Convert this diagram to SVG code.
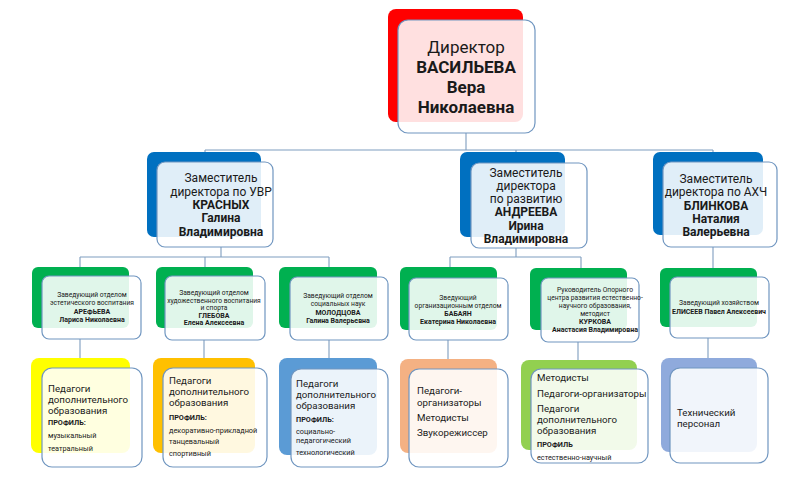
<svg xmlns="http://www.w3.org/2000/svg" width="800" height="479" viewBox="0 0 800 479">
<style>
.f{fill:#fff;fill-opacity:.88;stroke:#7096c0;stroke-width:1.2}
.c{fill:none;stroke:#7f9dbf;stroke-width:1.1}
text{font-family:Roboto,"Liberation Sans",sans-serif;fill:#1a1a1a}
.m{text-anchor:middle}
.b{font-weight:bold}
.d{font-size:17px}
.z{font-size:12px}
.h{font-size:6.7px}
.hb{font-size:7px;font-weight:bold}
.p{font-size:9.7px}
.s{font-size:7.3px}
.sb{font-size:7.3px;font-weight:bold}
</style>
<rect width="800" height="479" fill="#fff"/>
<g id="connectors">
<path class="c" d="M466 133V150M205 150H713M205 150V162M516 150V163M713 150V162"/>
<path class="c" d="M221 247V257M80 257H329M80 257V276M205 257V276M329 257V277"/>
<path class="c" d="M516 248V257M450 257H581M450 257V278M581 257V278"/>
<path class="c" d="M713 247V277"/>
<path class="c" d="M80 339V368M204 340V368M329 340V369M448 340V369M578 342V369M708 338V368"/>
</g>
<g id="director">
<rect x="388" y="9" width="135" height="113" rx="8" fill="#ff0000"/>
<rect class="f" x="398" y="20" width="137" height="113" rx="10"/>
<text class="m d" x="466" y="53">Директор</text>
<text class="m d b" x="466" y="73">ВАСИЛЬЕВА</text>
<text class="m d b" x="466" y="93">Вера</text>
<text class="m d b" x="466" y="113">Николаевна</text>
</g>
<g id="dep-uvr">
<rect x="147" y="152" width="114" height="85" rx="7" fill="#0070c0"/>
<rect class="f" x="157" y="162" width="116" height="85" rx="8"/>
<text class="m z" x="221" y="182">Заместитель</text>
<text class="m z" x="221" y="196">директора по УВР</text>
<text class="m z b" x="221" y="209">КРАСНЫХ</text>
<text class="m z b" x="221" y="222">Галина</text>
<text class="m z b" x="221" y="236">Владимировна</text>
</g>
<g id="dep-dev">
<rect x="460" y="152" width="105" height="85" rx="7" fill="#0070c0"/>
<rect class="f" x="471" y="163" width="116" height="85" rx="8"/>
<text class="m z" x="526" y="177">Заместитель</text>
<text class="m z" x="526" y="190">директора</text>
<text class="m z" x="526" y="203">по развитию</text>
<text class="m z b" x="526" y="216">АНДРЕЕВА</text>
<text class="m z b" x="526" y="229.5">Ирина</text>
<text class="m z b" x="526" y="243">Владимировна</text>
</g>
<g id="dep-ahch">
<rect x="653" y="152" width="110" height="83" rx="7" fill="#0070c0"/>
<rect class="f" x="663" y="162" width="114" height="85" rx="8"/>
<text class="m z" x="716" y="183">Заместитель</text>
<text class="m z" x="716" y="196">директора по АХЧ</text>
<text class="m z b" x="716" y="210">БЛИНКОВА</text>
<text class="m z b" x="716" y="223">Наталия</text>
<text class="m z b" x="716" y="236">Валерьевна</text>
</g>
<g id="head-aesthetic">
<rect x="32" y="267" width="97" height="61" rx="6" fill="#00b050"/>
<rect class="f" x="42" y="276" width="99" height="63" rx="7"/>
<text class="m h" x="92" y="297">Заведующий отделом</text>
<text class="m h" x="92" y="305">эстетического воспитания</text>
<text class="m hb" x="92" y="314">АРЕФЬЕВА</text>
<text class="m hb" x="92" y="322">Лариса Николаевна</text>
</g>
<g id="head-art">
<rect x="156" y="267" width="97" height="61" rx="6" fill="#00b050"/>
<rect class="f" x="165" y="276" width="100" height="64" rx="7"/>
<text class="m h" x="214" y="295">Заведующий отделом</text>
<text class="m h" x="214" y="303">художественного воспитания</text>
<text class="m h" x="214" y="310">и спорта</text>
<text class="m hb" x="214" y="317.5">ГЛЕБОВА</text>
<text class="m hb" x="214" y="325">Елена Алексеевна</text>
</g>
<g id="head-social">
<rect x="279" y="267" width="98" height="61" rx="6" fill="#00b050"/>
<rect class="f" x="290" y="277" width="98" height="63" rx="7"/>
<text class="m h" x="338" y="298">Заведующий отделом</text>
<text class="m h" x="338" y="306">социальных наук</text>
<text class="m hb" x="338" y="314.5">МОЛОДЦОВА</text>
<text class="m hb" x="338" y="323">Галина Валерьевна</text>
</g>
<g id="head-org">
<rect x="400" y="267" width="97" height="63" rx="6" fill="#00b050"/>
<rect class="f" x="409" y="278" width="99" height="62" rx="7"/>
<text class="m h" x="458" y="300">Зведующий</text>
<text class="m h" x="458" y="308">организационным отделом</text>
<text class="m hb" x="458" y="315.5">БАБАЯН</text>
<text class="m hb" x="458" y="324">Екатерина Николаевна</text>
</g>
<g id="head-center">
<rect x="530" y="268" width="97" height="62" rx="6" fill="#00b050"/>
<rect class="f" x="541" y="278" width="98" height="64" rx="7"/>
<text class="m h" x="595" y="292">Руководитель Опорного</text>
<text class="m h" x="595" y="300">центра развития естественно-</text>
<text class="m h" x="595" y="308">научного образования,</text>
<text class="m h" x="595" y="315.5">методист</text>
<text class="m hb" x="595" y="324">КУРКОВА</text>
<text class="m hb" x="595" y="332">Анастасия Владимировна</text>
</g>
<g id="head-house">
<rect x="660" y="268" width="97" height="59" rx="6" fill="#00b050"/>
<rect class="f" x="670" y="277" width="99" height="61" rx="7"/>
<text class="m h" x="719" y="305">Заведующий хозяйством</text>
<text class="m hb" x="719" y="314">ЕЛИСЕЕВ Павел Алексеевич</text>
</g>
<g id="staff-music">
<rect x="31" y="358" width="99" height="95" rx="8" fill="#ffff00"/>
<rect class="f" x="42" y="368" width="100" height="99" rx="10"/>
<text class="p" x="48" y="391.5">Педагоги</text>
<text class="p" x="48" y="402.5">дополнительного</text>
<text class="p" x="48" y="413.5">образования</text>
<text class="sb" x="48" y="425">ПРОФИЛЬ:</text>
<text class="s" x="48" y="438">музыкальный</text>
<text class="s" x="48" y="451">театральный</text>
</g>
<g id="staff-art">
<rect x="153" y="358" width="102" height="95" rx="8" fill="#ffc000"/>
<rect class="f" x="163" y="368" width="104" height="99" rx="10"/>
<text class="p" x="169" y="383.5">Педагоги</text>
<text class="p" x="169" y="394.5">дополнительного</text>
<text class="p" x="169" y="405.5">образования</text>
<text class="sb" x="169" y="420">ПРОФИЛЬ:</text>
<text class="s" x="169" y="432.5">декоративно-прикладной</text>
<text class="s" x="169" y="444">танцевальный</text>
<text class="s" x="169" y="456">спортивный</text>
</g>
<g id="staff-social">
<rect x="279" y="358" width="98" height="97" rx="8" fill="#5b9bd5"/>
<rect class="f" x="291" y="369" width="97" height="98" rx="10"/>
<text class="p" x="296" y="386.5">Педагоги</text>
<text class="p" x="296" y="397.5">дополнительного</text>
<text class="p" x="296" y="408.5">образования</text>
<text class="sb" x="296" y="421.5">ПРОФИЛЬ:</text>
<text class="s" x="296" y="433.5">социально-</text>
<text class="s" x="296" y="443">педагогический</text>
<text class="s" x="296" y="455">технологический</text>
</g>
<g id="staff-org">
<rect x="400" y="359" width="97" height="94" rx="8" fill="#f4b183"/>
<rect class="f" x="409" y="369" width="99" height="98" rx="10"/>
<text class="p" x="417" y="393.5">Педагоги-</text>
<text class="p" x="417" y="405.5">организаторы</text>
<text class="p" x="417" y="420.5">Методисты</text>
<text class="p" x="417" y="435.5">Звукорежиссер</text>
</g>
<g id="staff-center">
<rect x="521" y="360" width="116" height="90" rx="8" fill="#92d050"/>
<rect class="f" x="531" y="369" width="117" height="94" rx="10"/>
<text class="p" x="537" y="380.5">Методисты</text>
<text class="p" x="537" y="396.5">Педагоги-организаторы</text>
<text class="p" x="537" y="411.5">Педагоги</text>
<text class="p" x="537" y="422.5">дополнительного</text>
<text class="p" x="537" y="433.5">образования</text>
<text class="sb" x="537" y="446.5">ПРОФИЛЬ</text>
<text class="s" x="537" y="459.5">естественно-научный</text>
</g>
<g id="staff-tech">
<rect x="661" y="358" width="96" height="94" rx="8" fill="#8faadc"/>
<rect class="f" x="670" y="368" width="98" height="95" rx="10"/>
<text class="p" x="677" y="415.5">Технический</text>
<text class="p" x="677" y="426.5">персонал</text>
</g>
</svg>
